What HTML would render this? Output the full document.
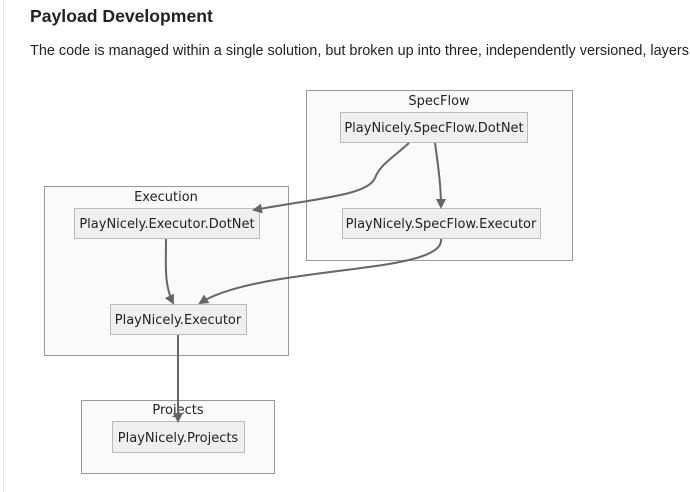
<!DOCTYPE html>
<html><head><style>
body{margin:0;width:690px;height:492px;background:#fff;overflow:hidden;font-family:"Liberation Sans",sans-serif;position:relative}
.bl{position:absolute;left:3px;top:0;width:1px;height:492px;background:#e4e4e4}
h1{position:absolute;left:30px;top:6px;margin:0;font-size:17.6px;font-weight:bold;color:#222}
p{position:absolute;left:30px;top:43px;margin:0;font-size:14.45px;color:#222;white-space:nowrap}
svg{position:absolute;left:0;top:0}
text{font-family:"DejaVu Sans",sans-serif;font-size:13px;fill:#222}
</style></head><body>
<div class="bl"></div>
<h1>Payload Development</h1>
<p>The code is managed within a single solution, but broken up into three, independently versioned, layers</p>
<svg width="690" height="492">
<defs><marker id="a" markerWidth="10" markerHeight="10" refX="8" refY="5" orient="auto" markerUnits="userSpaceOnUse"><path d="M0,0L10,5L0,10z" fill="#666"/></marker></defs>
<g fill="#fafafa" stroke="#999" stroke-width="1">
<rect x="306.5" y="90.5" width="266" height="170"/>
<rect x="44.5" y="186.5" width="244" height="169"/>
<rect x="81.5" y="400.5" width="193" height="73"/>
</g>
<g fill="#efefef" stroke="#bbb" stroke-width="1">
<rect x="340.5" y="112.5" width="187" height="30"/>
<rect x="342.5" y="208.5" width="198" height="30"/>
<rect x="74.5" y="208.5" width="185" height="30"/>
<rect x="110.5" y="304.5" width="136" height="30"/>
<rect x="112.5" y="421.5" width="132" height="31"/>
</g>
<g text-anchor="middle">
<text x="439" y="105">SpecFlow</text>
<text x="166" y="201">Execution</text>
<text x="178" y="414">Projects</text>
<text x="434" y="132">PlayNicely.SpecFlow.DotNet</text>
<text x="441" y="228">PlayNicely.SpecFlow.Executor</text>
<text x="167" y="228">PlayNicely.Executor.DotNet</text>
<text x="178" y="324">PlayNicely.Executor</text>
<text x="178" y="442">PlayNicely.Projects</text>
</g>
<g fill="none" stroke="#666" stroke-width="2" marker-end="url(#a)">
<path d="M409,143C390,160 380,165 375,178C368,195 320,198 254,210"/>
<path d="M435,143C438,165 441,185 441,207"/>
<path d="M166,239C166,265 164,285 173,303"/>
<path d="M441,239C445,275 260,265 200,303"/>
<path d="M178,335L178,421"/>
</g>
</svg>
</body></html>
